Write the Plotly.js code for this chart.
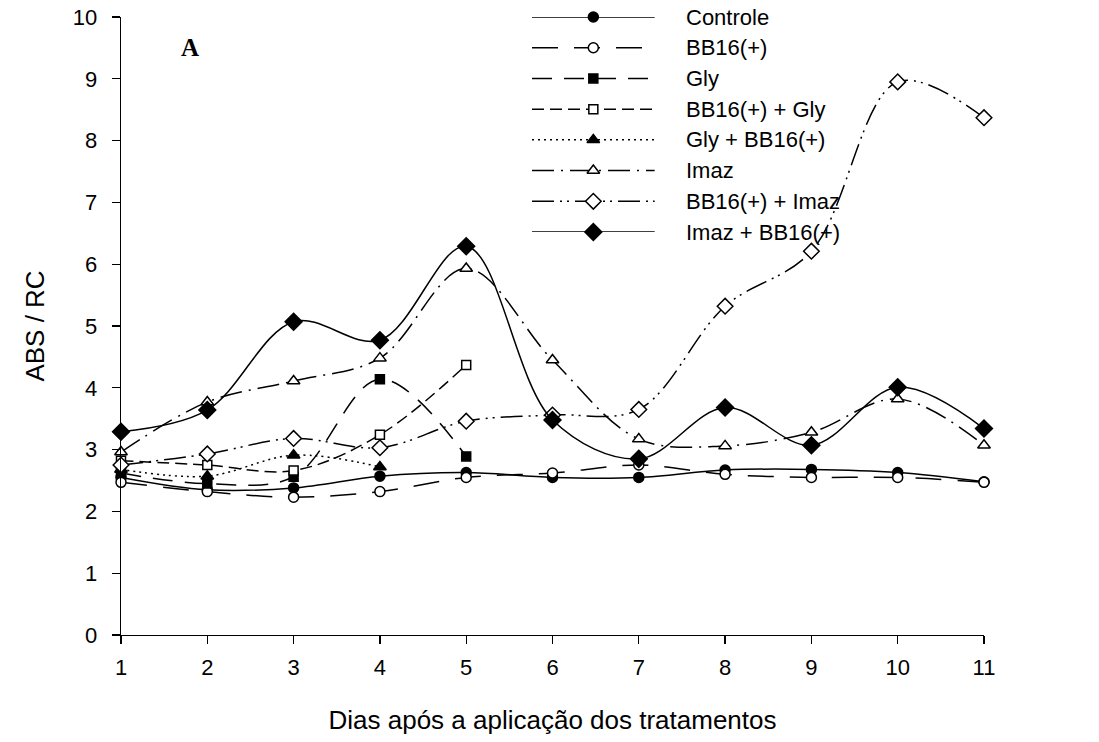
<!DOCTYPE html>
<html>
<head>
<meta charset="utf-8">
<script src="https://cdn.plot.ly/plotly-3.0.1.min.js"></script>
<style>
html, body { margin: 0; padding: 0; background: #fff; }
#chart { width: 1099px; height: 742px; }
</style>
</head>
<body>
<div id="chart"></div>
<script>
// ---- Data ----
const days = [1, 2, 3, 4, 5, 6, 7, 8, 9, 10, 11];
const daysGly = [1, 2, 3, 4, 5];
const daysGlyBb16 = [1, 2, 3, 4];

const controle   = [2.55, 2.35, 2.38, 2.57, 2.63, 2.55, 2.55, 2.67, 2.68, 2.63, 2.48];
const bb16       = [2.47, 2.32, 2.23, 2.32, 2.55, 2.62, 2.75, 2.60, 2.55, 2.55, 2.47];
const gly        = [2.62, 2.45, 2.56, 4.14, 2.89];
const bb16Gly    = [2.82, 2.75, 2.66, 3.24, 4.37];
const glyBb16    = [2.68, 2.57, 2.91, 2.72];
const imaz       = [2.96, 3.77, 4.11, 4.48, 5.93, 4.45, 3.17, 3.06, 3.28, 3.82, 3.07];
const bb16Imaz   = [2.75, 2.93, 3.18, 3.03, 3.46, 3.56, 3.65, 5.32, 6.21, 8.95, 8.37];
const imazBb16   = [3.29, 3.64, 5.07, 4.77, 6.29, 3.48, 2.85, 3.68, 3.07, 4.01, 3.34];

const seriesNames = ["Controle", "BB16(+)", "Gly", "BB16(+) + Gly", "Gly + BB16(+)", "Imaz", "BB16(+) + Imaz", "Imaz + BB16(+)"];
const xTickVals = days;
const yTickVals = [0, 1, 2, 3, 4, 5, 6, 7, 8, 9, 10];

const xTitle = "Dias após a aplicação dos tratamentos";
const yTitle = "ABS / RC";
const panelLabel = "A";

// ---- Styles ----
const styles = [
  {x: days,        y: controle, dash: "solid",                       symbol: "circle",        fill: "black", size: 10},
  {x: days,        y: bb16,     dash: "26px,16px",                   symbol: "circle",        fill: "white", size: 10},
  {x: daysGly,     y: gly,      dash: "20px,12px",                   symbol: "square",        fill: "black", size: 9},
  {x: daysGly,     y: bb16Gly,  dash: "12px,6px",                    symbol: "square",        fill: "white", size: 9},
  {x: daysGlyBb16, y: glyBb16,  dash: "2px,4px",                     symbol: "triangle-up",   fill: "black", size: 11},
  {x: days,        y: imaz,     dash: "22px,7px,2px,7px",            symbol: "triangle-up",   fill: "white", size: 11},
  {x: days,        y: bb16Imaz, dash: "22px,6px,2px,5px,2px,6px",    symbol: "diamond",       fill: "white", size: 12},
  {x: days,        y: imazBb16, dash: "solid",                       symbol: "diamond",       fill: "black", size: 13}
];

const font = "Arial, 'Liberation Sans', sans-serif";
const traces = [];

styles.forEach((s, i) => {
  traces.push({
    type: "scatter",
    mode: "lines+markers",
    name: seriesNames[i],
    x: s.x, y: s.y,
    xaxis: "x", yaxis: "y",
    cliponaxis: false,
    showlegend: false,
    line: {color: "black", width: 1.5, dash: s.dash, shape: "spline", smoothing: 1},
    marker: {symbol: s.symbol, size: s.size, color: s.fill, line: {color: "black", width: 1.5}}
  });
});

// Custom legend: sample line 0..1 on a hidden axis pair, text to its right
const annotations = [];
styles.forEach((s, i) => {
  traces.push({
    type: "scatter", mode: "lines", x: [0, 1], y: [i, i],
    xaxis: "x2", yaxis: "y2", showlegend: false, hoverinfo: "skip", cliponaxis: false,
    line: {color: "black", width: 1.5, dash: s.dash}
  });
  traces.push({
    type: "scatter", mode: "markers", x: [0.5], y: [i],
    xaxis: "x2", yaxis: "y2", showlegend: false, hoverinfo: "skip", cliponaxis: false,
    marker: {symbol: s.symbol, size: s.size, color: s.fill, line: {color: "black", width: 1.5}}
  });
  annotations.push({
    xref: "x2", yref: "y2", x: 1.236, y: i, text: seriesNames[i],
    showarrow: false, xanchor: "left", yanchor: "middle",
    font: {family: font, size: 22, color: "black"}
  });
});

annotations.push({
  xref: "paper", yref: "paper", x: 0.08, y: 0.951, text: "<b>" + panelLabel + "</b>",
  showarrow: false, xanchor: "center", yanchor: "middle",
  font: {family: "'Times New Roman', 'Liberation Serif', serif", size: 25, color: "black"}
});

// legend axis geometry: line from px 532 to 659 => 127 px per unit; domain right edge at px 1000
const legLeft = (532 - 121) / 863;
const legRight = (1000 - 121) / 863;
const legRange = (1000 - 532) / 127;

const layout = {
  width: 1099, height: 742,
  margin: {l: 121, r: 115, t: 17, b: 107},
  paper_bgcolor: "white", plot_bgcolor: "rgba(0,0,0,0)",
  showlegend: false,
  font: {family: font, color: "black", size: 22},
  xaxis: {
    range: [1, 11], tickvals: xTickVals, ticks: "outside", ticklen: 8, tickwidth: 1.3,
    tickcolor: "black", showline: true, linecolor: "black", linewidth: 1.3,
    showgrid: false, zeroline: false, ticklabelstandoff: 4,
    tickfont: {family: font, size: 22, color: "black"},
    title: {text: xTitle, font: {family: font, size: 26, color: "black"}, standoff: 32}
  },
  yaxis: {
    range: [0, 10], tickvals: yTickVals, ticks: "outside", ticklen: 8, tickwidth: 1.3,
    tickcolor: "black", showline: true, linecolor: "black", linewidth: 1.3,
    showgrid: false, zeroline: false, ticklabelstandoff: 10,
    tickfont: {family: font, size: 22, color: "black"},
    title: {text: yTitle, font: {family: font, size: 26, color: "black"}, standoff: 20}
  },
  xaxis2: {domain: [legLeft, legRight], range: [0, legRange], visible: false, fixedrange: true, anchor: "y2"},
  yaxis2: {domain: [(635 - 232) / 618, (635 - 14) / 618], range: [7, 0], visible: false, fixedrange: true, anchor: "x2"},
  annotations: annotations
};

Plotly.newPlot("chart", traces, layout, {displayModeBar: false, staticPlot: true});
</script>
</body>
</html>
